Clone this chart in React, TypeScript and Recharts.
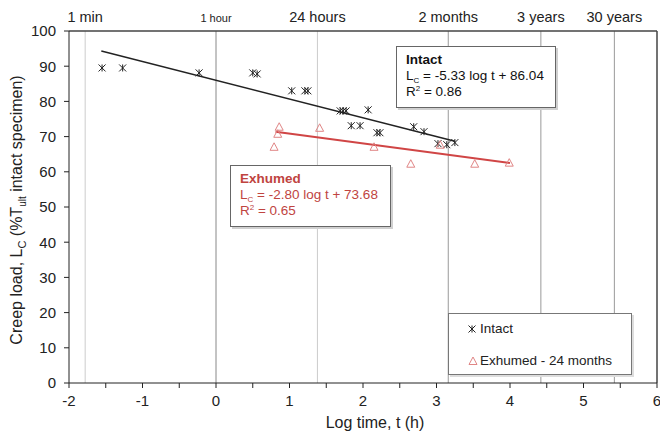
import { ScatterChart, Scatter, XAxis, YAxis, ReferenceLine } from 'recharts';

const FONT = '"Liberation Sans", Arial, Helvetica, sans-serif';

// log time (h) vs creep load (%Tult intact)
const intactPoints = [
  { x: -1.55, y: 89.5 }, { x: -1.27, y: 89.5 }, { x: -0.23, y: 88.1 }, { x: 0.5, y: 88.1 },
  { x: 0.56, y: 87.8 }, { x: 1.03, y: 83.0 }, { x: 1.21, y: 83.0 }, { x: 1.25, y: 83.0 },
  { x: 1.69, y: 77.3 }, { x: 1.73, y: 77.3 }, { x: 1.77, y: 77.3 }, { x: 2.07, y: 77.6 },
  { x: 1.84, y: 73.1 }, { x: 1.96, y: 73.1 }, { x: 2.19, y: 71.1 }, { x: 2.23, y: 71.1 },
  { x: 2.69, y: 72.8 }, { x: 2.83, y: 71.4 }, { x: 3.02, y: 68.0 }, { x: 3.14, y: 67.7 },
  { x: 3.25, y: 68.3 },
];

const exhumedPoints = [
  { x: 0.86, y: 72.8 }, { x: 0.84, y: 70.8 }, { x: 0.79, y: 67.1 }, { x: 1.41, y: 72.5 },
  { x: 2.15, y: 67.1 }, { x: 2.65, y: 62.3 }, { x: 3.05, y: 67.7 }, { x: 3.52, y: 62.3 },
  { x: 3.99, y: 62.6 },
];

// fitted line ends as drawn
const intactTrend = [{ x: -1.56, y: 94.3 }, { x: 3.25, y: 68.7 }];
const exhumedTrend = [{ x: 0.81, y: 71.4 }, { x: 4.0, y: 62.5 }];

const xTicks = [-2, -1.5, -1, -0.5, 0, 0.5, 1, 1.5, 2, 2.5, 3, 3.5, 4, 4.5, 5, 5.5, 6];
const yTicks = [0, 10, 20, 30, 40, 50, 60, 70, 80, 90, 100];

// time markers along the top
const timeMarks = [
  { x: -1.78, label: '1 min', size: 14.5, color: '#cccccc' },
  { x: 0, label: '1 hour', size: 11, color: '#888888' },
  { x: 1.38, label: '24 hours', size: 14.5, color: '#cccccc' },
  { x: 3.16, label: '2 months', size: 14.5, color: '#999999' },
  { x: 4.42, label: '3 years', size: 14.5, color: '#999999' },
  { x: 5.42, label: '30 years', size: 14.5, color: '#999999' },
];

const Asterisk = (props: any) => {
  const { cx, cy } = props;
  if (cx == null || cy == null) return null;
  const r = 3.5;
  return (
    <g stroke="#222" strokeWidth={1}>
      <line x1={cx - r} y1={cy - r} x2={cx + r} y2={cy + r} />
      <line x1={cx + r} y1={cy - r} x2={cx - r} y2={cy + r} />
      <line x1={cx} y1={cy - r} x2={cx} y2={cy + r} />
    </g>
  );
};

const Triangle = (props: any) => {
  const { cx, cy } = props;
  if (cx == null || cy == null) return null;
  return (
    <polygon
      points={`${cx},${cy - 4} ${cx + 4},${cy + 3.5} ${cx - 4},${cy + 3.5}`}
      fill="none"
      stroke="#e08585"
      strokeWidth={1}
    />
  );
};

const NoDot = () => null;

const YTitle = () => (
  <text x={22} y={210} transform="rotate(-90, 22, 210)" textAnchor="middle" fontSize={16} fill="#222" fontFamily={FONT}>
    Creep load, L<tspan dy={4} fontSize={11}>C</tspan>
    <tspan dy={-4}> (%T</tspan>
    <tspan dy={4} fontSize={10}>ult</tspan>
    <tspan dy={-4}> intact specimen)</tspan>
  </text>
);

const XTitle = () => (
  <text x={375} y={428} textAnchor="middle" fontSize={16} fill="#222" fontFamily={FONT}>
    Log time, t (h)
  </text>
);

const subStyle: React.CSSProperties = { fontSize: 8, position: 'relative', top: 3, lineHeight: 0 };
const supStyle: React.CSSProperties = { fontSize: 8, position: 'relative', top: -5, lineHeight: 0 };

const boxStyle: React.CSSProperties = {
  position: 'absolute', boxSizing: 'border-box', background: '#fff', border: '1px solid #666',
  boxShadow: '2px 2px 0 #d0d0d0', fontFamily: FONT, fontSize: 13.5, lineHeight: '16px',
  padding: '5px 9px', whiteSpace: 'nowrap',
};

export default function App() {
  return (
    <div style={{ position: 'absolute', left: 0, top: 0, width: 660, height: 438, background: '#fff' }}>
      <ScatterChart width={660} height={438} margin={{ top: 31, right: 3, bottom: 25, left: 0 }}>
        <XAxis
          type="number"
          dataKey="x"
          domain={[-2, 6]}
          ticks={xTicks}
          interval={0}
          allowDataOverflow
          height={30}
          tickSize={5}
          tickMargin={7}
          stroke="#222"
          tick={{ fontSize: 15, fill: '#222', fontFamily: FONT }}
          tickFormatter={(v: number) => (Number.isInteger(v) ? String(v) : '')}
          label={{ content: XTitle }}
        />
        <YAxis
          type="number"
          dataKey="y"
          domain={[0, 100]}
          ticks={yTicks}
          interval={0}
          width={69}
          tickSize={5}
          tickMargin={8}
          stroke="#222"
          tick={{ fontSize: 15, fill: '#222', fontFamily: FONT }}
          label={{ content: YTitle }}
        />
        {timeMarks.map((m) => (
          <ReferenceLine
            key={m.label}
            x={m.x}
            stroke={m.color}
            strokeWidth={1}
            label={{ value: m.label, position: 'top', offset: 9, fontSize: m.size, fill: '#222', fontFamily: FONT }}
          />
        ))}
        <ReferenceLine y={100} stroke="#444" strokeWidth={1.5} />
        <ReferenceLine x={6} stroke="#444" strokeWidth={1.5} />
        <Scatter data={intactTrend} shape={NoDot} line={{ stroke: '#222', strokeWidth: 1.5 }} isAnimationActive={false} legendType="none" />
        <Scatter data={exhumedTrend} shape={NoDot} line={{ stroke: '#d04545', strokeWidth: 2 }} isAnimationActive={false} legendType="none" />
        <Scatter name="Intact" data={intactPoints} shape={Asterisk} isAnimationActive={false} />
        <Scatter name="Exhumed - 24 months" data={exhumedPoints} shape={Triangle} isAnimationActive={false} />
      </ScatterChart>
      <div style={{ ...boxStyle, left: 396, top: 46, width: 160, height: 62, color: '#111' }}>
        <div style={{ fontWeight: 'bold' }}>Intact</div>
        <div>L<span style={subStyle}>C</span> = -5.33 log t + 86.04</div>
        <div>R<span style={supStyle}>2</span> = 0.86</div>
      </div>
      <div style={{ ...boxStyle, left: 230, top: 165, width: 161, height: 62, color: '#c0443f' }}>
        <div style={{ fontWeight: 'bold' }}>Exhumed</div>
        <div>L<span style={subStyle}>C</span> = -2.80 log t + 73.68</div>
        <div>R<span style={supStyle}>2</span> = 0.65</div>
      </div>
      {/* legend */}
      <div
        style={{
          position: 'absolute', left: 448, top: 313, width: 184, height: 62, boxSizing: 'border-box',
          border: '1px solid #777', background: '#fff', boxShadow: '2px 2px 0 #ddd',
          fontFamily: FONT, fontSize: 13.5, color: '#222',
        }}
      >
        <svg width={12} height={12} style={{ position: 'absolute', left: 17, top: 9 }}>
          <Asterisk cx={6} cy={6} />
        </svg>
        <div style={{ position: 'absolute', left: 31, top: 7 }}>Intact</div>
        <svg width={12} height={12} style={{ position: 'absolute', left: 18, top: 41 }}>
          <Triangle cx={6} cy={6} />
        </svg>
        <div style={{ position: 'absolute', left: 31, top: 39 }}>Exhumed - 24 months</div>
      </div>
    </div>
  );
}
